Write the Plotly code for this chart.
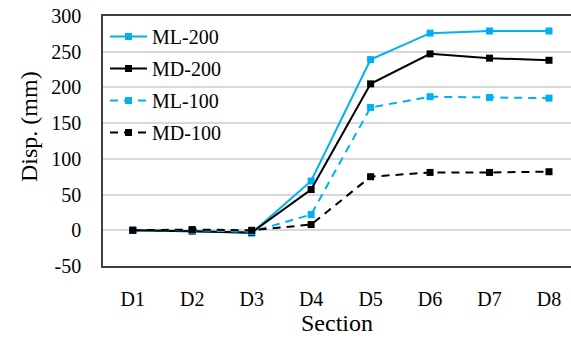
import plotly.graph_objects as go

sections = ["D1", "D2", "D3", "D4", "D5", "D6", "D7", "D8"]
ml200 = [0, -1, -4, 69, 239, 276, 279, 279]
md200 = [0, -1, -3, 57, 205, 247, 241, 238]
ml100 = [0, 0, -2, 22, 172, 187, 186, 185]
md100 = [0, 1, 0, 8, 75, 81, 81, 82]
y_ticks = [-50, 0, 50, 100, 150, 200, 250, 300]
y_tick_text = ["-50", "0", "50", "100", "150", "200", "250", "300"]

blue = "#00B0F0"
black = "#000000"
font_family = "Liberation Serif"

series = [
    ("ML-200", ml200, blue, "solid"),
    ("MD-200", md200, black, "solid"),
    ("ML-100", ml100, blue, "8px,6px"),
    ("MD-100", md100, black, "8px,6px"),
]

W, H = 571, 338
L, R, T, B = 103, 0, 16, 72
pw, ph = W - L - R, H - T - B

fig = go.Figure()
for i, (name, vals, col, dash) in enumerate(series):
    fig.add_trace(go.Scatter(
        x=list(range(len(sections))), y=vals, name=name, mode="lines+markers",
        line=dict(color=col, width=2, dash=dash),
        marker=dict(symbol="square", size=7, color=col),
        legendgroup=f"g{i}",
    ))

fig.update_layout(
    width=W, height=H,
    margin=dict(l=L, r=R, t=T, b=B),
    plot_bgcolor="white", paper_bgcolor="white",
    font=dict(family=font_family, size=20, color="#000000"),
    showlegend=True,
    legend=dict(
        x=2 / pw, y=1 - 1 / ph, xanchor="left", yanchor="top",
        bgcolor="rgba(255,255,255,0)", font=dict(size=20),
        tracegroupgap=3, traceorder="grouped", itemwidth=37,
    ),
    annotations=[dict(
        text="Disp. (mm)", textangle=-90, xref="paper", yref="paper",
        x=(29 - L) / pw, y=(T + ph - 127) / ph, showarrow=False,
        xanchor="center", yanchor="middle", font=dict(size=24),
    )],
)
fig.update_xaxes(
    tickmode="array", tickvals=list(range(len(sections))), ticktext=sections,
    range=[-0.5, 7.37], showgrid=False, zeroline=False,
    showline=True, linecolor="#404040", linewidth=1.5, mirror=True,
    ticks="", ticklabelstandoff=14,
    title=dict(text="Section", font=dict(size=24), standoff=4),
)
fig.update_yaxes(
    range=[-50, 300], tickmode="array", tickvals=y_ticks, ticktext=y_tick_text,
    showgrid=True, gridcolor="#D9D9D9", gridwidth=1.5, zeroline=False,
    showline=True, linecolor="#404040", linewidth=1.5,
    ticks="", ticklabelstandoff=16,
)

fig.write_html("out.html")
